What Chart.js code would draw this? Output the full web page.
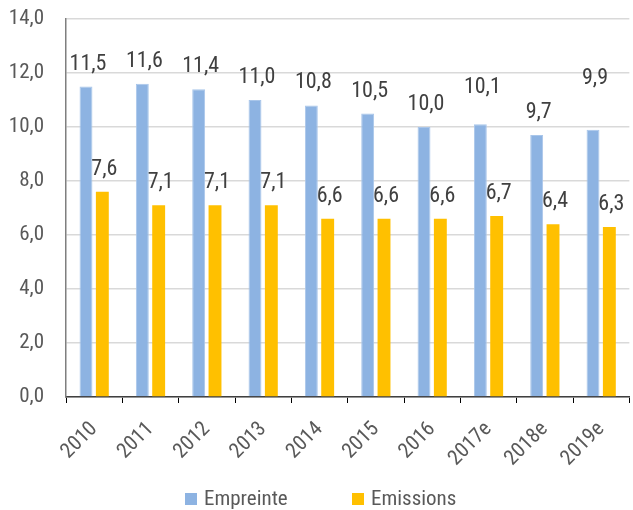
<!DOCTYPE html>
<html>
<head>
<meta charset="utf-8">
<script src="https://cdn.jsdelivr.net/npm/chart.js@4/dist/chart.umd.min.js"></script>
<style>
  html, body { margin: 0; padding: 0; background: #ffffff; }
  #wrap { width: 633px; height: 510px; position: relative; }
</style>
</head>
<body>
<div id="wrap"><canvas id="c" width="633" height="510"></canvas></div>
<script>
const categories = ['2010', '2011', '2012', '2013', '2014', '2015', '2016', '2017e', '2018e', '2019e'];
const empreinte = [11.5, 11.6, 11.4, 11.0, 10.8, 10.5, 10.0, 10.1, 9.7, 9.9];
const emissions = [7.6, 7.1, 7.1, 7.1, 6.6, 6.6, 6.6, 6.7, 6.4, 6.3];
const seriesNames = ['Empreinte', 'Emissions'];
const yTicks = [0, 2, 4, 6, 8, 10, 12, 14];

const FONT = "'Roboto Condensed', 'Open Sans Condensed', 'Liberation Sans', sans-serif";
const fmt = v => v.toFixed(1).replace('.', ',');
const colors = ['#8DB3E2', '#FFC000'];

// extra lift (px) for a few manually moved labels in the original
const labelLift = [[0,0,0,0,0,0,0,14,0,29],[0,0,0,0,0,0,0,0,0,0]];

const dataLabels = {
  id: 'dataLabels',
  afterDatasetsDraw(chart) {
    const ctx = chart.ctx;
    ctx.save();
    ctx.font = '22px ' + FONT;
    ctx.fillStyle = '#404040';
    ctx.textAlign = 'center';
    ctx.textBaseline = 'alphabetic';
    chart.data.datasets.forEach((ds, di) => {
      const meta = chart.getDatasetMeta(di);
      meta.data.forEach((bar, i) => {
        const lift = labelLift[di][i] || 0;
        ctx.fillText(fmt(ds.data[i]), bar.x + 2, bar.y - 17 - lift);
      });
    });
    ctx.restore();
  }
};

const bottomLegend = {
  id: 'bottomLegend',
  afterDraw(chart) {
    const ctx = chart.ctx;
    ctx.save();
    ctx.font = '21px ' + FONT;
    ctx.textBaseline = 'middle';
    ctx.textAlign = 'left';
    const y = 499;
    const starts = [185, 352];
    chart.data.datasets.forEach((ds, di) => {
      const x = starts[di];
      ctx.fillStyle = colors[di];
      ctx.fillRect(x, y - 6, 12, 12);
      ctx.fillStyle = '#595959';
      ctx.fillText(ds.label, x + 19, y + 1);
    });
    ctx.restore();
  }
};

new Chart(document.getElementById('c'), {
  type: 'bar',
  data: {
    labels: categories,
    datasets: [
      { label: seriesNames[0], data: empreinte, backgroundColor: colors[0], borderColor: '#A9C6EA', borderWidth: 1, categoryPercentage: 0.58, barPercentage: 0.79 },
      { label: seriesNames[1], data: emissions, backgroundColor: colors[1], borderWidth: 0, categoryPercentage: 0.58, barPercentage: 0.79 }
    ]
  },
  options: {
    responsive: false,
    animation: false,
    layout: { padding: { top: 19, right: 0, left: 0, bottom: 0 } },
    plugins: { legend: { display: false }, tooltip: { enabled: false } },
    scales: {
      x: {
        afterFit: (s) => { s.height = 113; },
        grid: { drawOnChartArea: false, drawTicks: true, tickLength: 6, color: '#000000', offset: true },
        border: { display: true, color: '#404040', width: 1.5 },
        ticks: { color: '#595959', font: { family: FONT, size: 21 }, minRotation: 45, maxRotation: 45, padding: 14 }
      },
      y: {
        min: 0, max: 14,
        afterBuildTicks: (s) => { s.ticks = yTicks.map(v => ({ value: v })); },
        afterFit: (s) => { s.width = 66; },
        grid: { color: '#D9D9D9', lineWidth: 1.5, drawTicks: true, tickLength: 19, tickColor: 'rgba(0,0,0,0)' },
        border: { display: true, color: '#7F7F7F', width: 1.5 },
        ticks: { color: '#595959', font: { family: FONT, size: 21 }, padding: 3, callback: v => fmt(v) }
      }
    }
  },
  plugins: [dataLabels, bottomLegend]
});
</script>
</body>
</html>
